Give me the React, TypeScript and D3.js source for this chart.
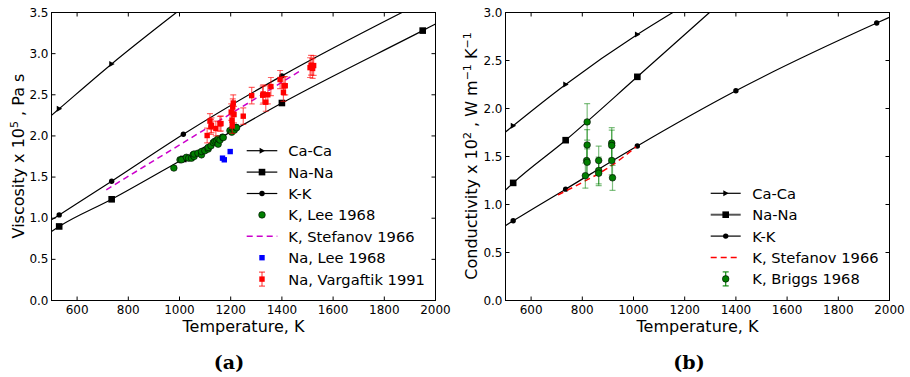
import React from "react";
import * as d3 from "d3";

// ---------- shared axes ----------
const T_DOMAIN: [number, number] = [500, 2000];
const T_TICKS = [600, 800, 1000, 1200, 1400, 1600, 1800, 2000];
const VISC_TICKS = [0, 0.5, 1, 1.5, 2, 2.5, 3, 3.5];
const COND_TICKS = [0, 0.5, 1, 1.5, 2, 2.5, 3];

// ---------- (a) viscosity, x 10^5 Pa s ----------
const viscCaCaT = [500, 530, 735, 988];
const viscCaCaV = [2.25, 2.33, 2.875, 3.5];
const viscCaCaMarks = [530, 735];

const viscNaNaT = [500, 530, 735, 1015, 1400, 1950, 2000];
const viscNaNaV = [0.84, 0.9, 1.23, 1.72, 2.4, 3.28, 3.36];
const viscNaNaMarks = [530, 735, 1015, 1400, 1950];

const viscKKT = [500, 530, 735, 1015, 1400, 1869];
const viscKKV = [0.98, 1.04, 1.45, 2.02, 2.73, 3.5];
const viscKKMarks = [530, 735, 1015, 1400];

const leeKT = [978, 1002, 1008, 1027, 1036, 1047, 1053, 1057, 1057, 1072, 1086, 1086, 1099, 1112, 1112, 1123, 1132, 1138, 1145, 1151, 1151, 1158, 1168, 1171, 1197, 1204, 1208, 1214, 1221, 1223];
const leeKV = [1.61, 1.71, 1.71, 1.74, 1.73, 1.73, 1.77, 1.75, 1.78, 1.79, 1.77, 1.81, 1.82, 1.84, 1.86, 1.88, 1.92, 1.935, 1.945, 1.9, 1.965, 1.95, 1.985, 1.98, 2.065, 2.045, 2.09, 2.07, 2.105, 2.1];

const stefViscT = [714, 900, 1100, 1300, 1471];
const stefViscV = [1.345, 1.7, 2.08, 2.46, 2.79];

const naLeeT = [1168, 1175, 1198];
const naLeeV = [1.73, 1.71, 1.81];

const vargT = [1108, 1119, 1123, 1125, 1142, 1158, 1162, 1202, 1205, 1206, 1208, 1210, 1213, 1249, 1282, 1325, 1327, 1337, 1345, 1357, 1393, 1406, 1408, 1413, 1510, 1514, 1520, 1524];
const vargV = [2.005, 2.18, 2.11, 2.13, 2.09, 2.147, 2.15, 2.29, 2.19, 2.13, 2.35, 2.4, 2.26, 2.24, 2.49, 2.495, 2.51, 2.41, 2.5, 2.6, 2.685, 2.53, 2.61, 2.61, 2.83, 2.86, 2.82, 2.855];
const vargErr = [0.09, 0.09, 0.09, 0.09, 0.09, 0.09, 0.09, 0.1, 0.1, 0.1, 0.1, 0.1, 0.1, 0.1, 0.1, 0.11, 0.11, 0.11, 0.11, 0.11, 0.11, 0.11, 0.11, 0.11, 0.12, 0.12, 0.12, 0.12];

// ---------- (b) conductivity, x 10^2 W/(m K) ----------
const condCaCaT = [500, 530, 735, 1015, 1154];
const condCaCaV = [1.755, 1.82, 2.25, 2.77, 3.0];
const condCaCaMarks = [530, 735, 1015];

const condNaNaT = [500, 530, 735, 1015, 1297];
const condNaNaV = [1.15, 1.225, 1.67, 2.33, 3.0];
const condNaNaMarks = [530, 735, 1015];

const condKKT = [500, 530, 735, 1015, 1400, 1950, 2000];
const condKKV = [0.78, 0.83, 1.16, 1.61, 2.185, 2.89, 2.95];
const condKKMarks = [530, 735, 1015, 1400, 1950];

const stefCondT = [705, 800, 900, 1010];
const stefCondV = [1.1, 1.23, 1.38, 1.6];

const briggsT = [819, 819, 817, 819, 812, 864, 864, 864, 915, 915, 915, 918];
const briggsV = [1.86, 1.62, 1.458, 1.44, 1.3, 1.458, 1.354, 1.326, 1.64, 1.615, 1.458, 1.278];
const briggsErr = [0.19, 0.16, 0.15, 0.14, 0.13, 0.15, 0.14, 0.13, 0.16, 0.16, 0.15, 0.13];

// ---------- styling ----------
const FONT = "DejaVu Sans, Liberation Sans, sans-serif";
const GREEN = "#007f00";
const RED = "#ff0000";
const MAGENTA = "#cc00cc";
const BLUE = "#0000ff";

type Scale = d3.ScaleLinear<number, number>;
type MarkerKind = "tri" | "square" | "circle";

function zip(a: number[], b: number[]): [number, number][] {
  return a.map((t, i) => [t, b[i]]);
}

function Marker({ kind, x, y, fill = "#000", size = 1 }: { kind: MarkerKind; x: number; y: number; fill?: string; size?: number }) {
  if (kind === "tri") {
    const s = 3 * size;
    return <path d={`M${x + s},${y} L${x - s * 0.8},${y - s} L${x - s * 0.8},${y + s} Z`} fill={fill} />;
  }
  if (kind === "square") {
    const s = 3.3 * size;
    return <rect x={x - s} y={y - s} width={2 * s} height={2 * s} fill={fill} />;
  }
  return <circle cx={x} cy={y} r={2.7 * size} fill={fill} />;
}

function ModelCurve({ x, y, T, V, marks, kind, clip }: { x: Scale; y: Scale; T: number[]; V: number[]; marks: number[]; kind: MarkerKind; clip: string }) {
  const line = d3
    .line<[number, number]>()
    .x((d) => x(d[0]))
    .y((d) => y(d[1]))
    .curve(d3.curveMonotoneX);
  return (
    <g clipPath={`url(#${clip})`}>
      <path d={line(zip(T, V)) || ""} fill="none" stroke="#000" strokeWidth={1.2} />
      {marks.map((t) => {
        const v = V[T.indexOf(t)];
        return <Marker key={t} kind={kind} x={x(t)} y={y(v)} />;
      })}
    </g>
  );
}

function DashedCurve({ x, y, T, V, color, clip }: { x: Scale; y: Scale; T: number[]; V: number[]; color: string; clip: string }) {
  const line = d3
    .line<[number, number]>()
    .x((d) => x(d[0]))
    .y((d) => y(d[1]))
    .curve(d3.curveMonotoneX);
  return (
    <g clipPath={`url(#${clip})`}>
      <path d={line(zip(T, V)) || ""} fill="none" stroke={color} strokeWidth={1.5} strokeDasharray="6,4" />
    </g>
  );
}

function Frame({ x, y, yTicks, id }: { x: Scale; y: Scale; yTicks: number[]; id: string }) {
  const [l, r] = x.range();
  const [b, t] = y.range();
  const fmt = d3.format(".1f");
  return (
    <g fontFamily={FONT} fontSize={12} fill="#000">
      <defs>
        <clipPath id={id}>
          <rect x={l} y={t} width={r - l} height={b - t} />
        </clipPath>
      </defs>
      {T_TICKS.map((v) => (
        <g key={`x${v}`}>
          <line x1={x(v)} x2={x(v)} y1={b} y2={b - 4} stroke="#000" />
          <line x1={x(v)} x2={x(v)} y1={t} y2={t + 4} stroke="#000" />
          <text x={x(v)} y={b + 13} textAnchor="middle">
            {v}
          </text>
        </g>
      ))}
      {yTicks.map((v) => (
        <g key={`y${v}`}>
          <line x1={l} x2={l + 4} y1={y(v)} y2={y(v)} stroke="#000" />
          <line x1={r} x2={r - 4} y1={y(v)} y2={y(v)} stroke="#000" />
          <text x={l - 3} y={y(v)} textAnchor="end" dominantBaseline="central">
            {fmt(v)}
          </text>
        </g>
      ))}
      <rect x={l} y={t} width={r - l} height={b - t} fill="none" stroke="#000" strokeWidth={1} />
    </g>
  );
}

type LegendItem = { label: string; draw: (cx: number, cy: number, x0: number, x1: number) => React.ReactNode };

function Legend({ x0, x1, tx, y0, items }: { x0: number; x1: number; tx: number; y0: number; items: LegendItem[] }) {
  const step = 21.4;
  return (
    <g fontFamily={FONT} fontSize={14.7}>
      {items.map((it, i) => {
        const cy = y0 + i * step;
        return (
          <g key={it.label}>
            {it.draw((x0 + x1) / 2, cy, x0, x1)}
            <text x={tx} y={cy} dominantBaseline="central" fill="#000">
              {it.label}
            </text>
          </g>
        );
      })}
    </g>
  );
}

function lineHandle(kind: MarkerKind, stroke = "#000", width = 1.2) {
  return (cx: number, cy: number, x0: number, x1: number) => (
    <g>
      <line x1={x0} x2={x1} y1={cy} y2={cy} stroke={stroke} strokeWidth={width} />
      <Marker kind={kind} x={cx} y={cy} />
    </g>
  );
}

function dashHandle(color: string) {
  return (_cx: number, cy: number, x0: number, x1: number) => (
    <line x1={x0} x2={x1} y1={cy} y2={cy} stroke={color} strokeWidth={1.5} strokeDasharray="6,4" />
  );
}

function ErrorBar({ x, y1, y2, color, opacity }: { x: number; y1: number; y2: number; color: string; opacity: number }) {
  return (
    <g stroke={color} strokeOpacity={opacity} strokeWidth={1.2}>
      <line x1={x} x2={x} y1={y1} y2={y2} />
      <line x1={x - 3} x2={x + 3} y1={y1} y2={y1} />
      <line x1={x - 3} x2={x + 3} y1={y2} y2={y2} />
    </g>
  );
}

export default function App() {
  const xL = d3.scaleLinear().domain(T_DOMAIN).range([51.5, 435.5]);
  const yL = d3.scaleLinear().domain([0, 3.5]).range([300.5, 12.5]);
  const xR = d3.scaleLinear().domain(T_DOMAIN).range([505.5, 889.5]);
  const yR = d3.scaleLinear().domain([0, 3]).range([300.5, 12.5]);

  const leftLegend: LegendItem[] = [
    { label: "Ca-Ca", draw: lineHandle("tri") },
    { label: "Na-Na", draw: lineHandle("square") },
    { label: "K-K", draw: lineHandle("circle") },
    {
      label: "K, Lee 1968",
      draw: (cx, cy) => <circle cx={cx} cy={cy} r={3.3} fill={GREEN} stroke="#000" strokeWidth={0.6} />,
    },
    { label: "K, Stefanov 1966", draw: dashHandle(MAGENTA) },
    { label: "Na, Lee 1968", draw: (cx, cy) => <rect x={cx - 2.7} y={cy - 2.7} width={5.4} height={5.4} fill={BLUE} /> },
    {
      label: "Na, Vargaftik 1991",
      draw: (cx, cy) => (
        <g>
          <ErrorBar x={cx} y1={cy - 7} y2={cy + 7} color={RED} opacity={0.7} />
          <rect x={cx - 2.7} y={cy - 2.7} width={5.4} height={5.4} fill={RED} />
        </g>
      ),
    },
  ];

  const rightLegend: LegendItem[] = [
    { label: "Ca-Ca", draw: lineHandle("tri") },
    { label: "Na-Na", draw: lineHandle("square", "#555", 2) },
    { label: "K-K", draw: lineHandle("circle") },
    { label: "K, Stefanov 1966", draw: dashHandle(RED) },
    {
      label: "K, Briggs 1968",
      draw: (cx, cy) => (
        <g>
          <ErrorBar x={cx} y1={cy - 7} y2={cy + 7} color={GREEN} opacity={0.9} />
          <circle cx={cx} cy={cy} r={3.3} fill={GREEN} stroke="#000" strokeWidth={0.6} />
        </g>
      ),
    },
  ];

  return (
    <svg width={910} height={377} style={{ position: "absolute", left: 0, top: 0, background: "#fff" }}>
      <rect width={910} height={377} fill="#fff" />

      {/* (a) viscosity */}
      <Frame x={xL} y={yL} yTicks={VISC_TICKS} id="clipA" />
      <ModelCurve x={xL} y={yL} T={viscCaCaT} V={viscCaCaV} marks={viscCaCaMarks} kind="tri" clip="clipA" />
      <ModelCurve x={xL} y={yL} T={viscNaNaT} V={viscNaNaV} marks={viscNaNaMarks} kind="square" clip="clipA" />
      <ModelCurve x={xL} y={yL} T={viscKKT} V={viscKKV} marks={viscKKMarks} kind="circle" clip="clipA" />
      <g clipPath="url(#clipA)">
        {leeKT.map((t, i) => (
          <circle key={i} cx={xL(t)} cy={yL(leeKV[i])} r={3.3} fill={GREEN} stroke="#000" strokeWidth={0.6} />
        ))}
      </g>
      <DashedCurve x={xL} y={yL} T={stefViscT} V={stefViscV} color={MAGENTA} clip="clipA" />
      <g clipPath="url(#clipA)">
        {naLeeT.map((t, i) => (
          <rect key={i} x={xL(t) - 2.7} y={yL(naLeeV[i]) - 2.7} width={5.4} height={5.4} fill={BLUE} />
        ))}
        {vargT.map((t, i) => (
          <ErrorBar key={`e${i}`} x={xL(t)} y1={yL(vargV[i] + vargErr[i])} y2={yL(vargV[i] - vargErr[i])} color={RED} opacity={0.6} />
        ))}
        {vargT.map((t, i) => (
          <rect key={`s${i}`} x={xL(t) - 2.7} y={yL(vargV[i]) - 2.7} width={5.4} height={5.4} fill={RED} />
        ))}
      </g>
      <Legend x0={246.7} x1={277.3} tx={288.3} y0={150.7} items={leftLegend} />

      <text
        transform="translate(24,156) rotate(-90)"
        textAnchor="middle"
        fontFamily={FONT}
        fontSize={16}
      >
        Viscosity x 10
        <tspan dy={-6} fontSize={11}>5</tspan>
        <tspan dy={6}> , Pa s</tspan>
      </text>
      <text x={(xL.range()[0] + xL.range()[1]) / 2} y={332} textAnchor="middle" fontFamily={FONT} fontSize={16}>
        Temperature, K
      </text>
      <text x={229} y={369} textAnchor="middle" fontFamily="DejaVu Serif, Liberation Serif, serif" fontWeight="bold" fontSize={19}>
        (a)
      </text>

      {/* (b) thermal conductivity */}
      <Frame x={xR} y={yR} yTicks={COND_TICKS} id="clipB" />
      <ModelCurve x={xR} y={yR} T={condCaCaT} V={condCaCaV} marks={condCaCaMarks} kind="tri" clip="clipB" />
      <ModelCurve x={xR} y={yR} T={condNaNaT} V={condNaNaV} marks={condNaNaMarks} kind="square" clip="clipB" />
      <ModelCurve x={xR} y={yR} T={condKKT} V={condKKV} marks={condKKMarks} kind="circle" clip="clipB" />
      <DashedCurve x={xR} y={yR} T={stefCondT} V={stefCondV} color={RED} clip="clipB" />
      <g clipPath="url(#clipB)">
        {briggsT.map((t, i) => (
          <ErrorBar key={`e${i}`} x={xR(t)} y1={yR(briggsV[i] + briggsErr[i])} y2={yR(briggsV[i] - briggsErr[i])} color={GREEN} opacity={0.5} />
        ))}
        {briggsT.map((t, i) => (
          <circle key={`c${i}`} cx={xR(t)} cy={yR(briggsV[i])} r={3.3} fill={GREEN} stroke="#000" strokeWidth={0.6} />
        ))}
      </g>
      <Legend x0={710.7} x1={740.7} tx={752.3} y0={193.3} items={rightLegend} />

      <text
        transform="translate(477,156) rotate(-90)"
        textAnchor="middle"
        fontFamily={FONT}
        fontSize={16}
      >
        Conductivity x 10
        <tspan dy={-6} fontSize={11}>2</tspan>
        <tspan dy={6}> , W m</tspan>
        <tspan dy={-6} fontSize={11}>−1</tspan>
        <tspan dy={6}> K</tspan>
        <tspan dy={-6} fontSize={11}>−1</tspan>
      </text>
      <text x={(xR.range()[0] + xR.range()[1]) / 2} y={332} textAnchor="middle" fontFamily={FONT} fontSize={16}>
        Temperature, K
      </text>
      <text x={689} y={369} textAnchor="middle" fontFamily="DejaVu Serif, Liberation Serif, serif" fontWeight="bold" fontSize={19}>
        (b)
      </text>
    </svg>
  );
}
